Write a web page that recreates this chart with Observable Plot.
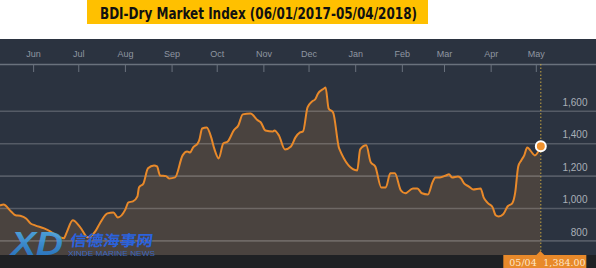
<!DOCTYPE html>
<html>
<head>
<meta charset="utf-8">
<script src="https://cdn.jsdelivr.net/npm/d3@7"></script>
<script src="https://cdn.jsdelivr.net/npm/@observablehq/plot@0.6"></script>
<style>
  html, body { margin: 0; padding: 0; background: #fff; }
  #page { position: relative; width: 596px; height: 268px; overflow: hidden; }
  #head { height: 39px; }
  #chart { position: relative; width: 596px; height: 229px;
           background: linear-gradient(#2b3340 0, #2b3340 216px, #1f2124 216px, #1f2124 229px); }
  #logo { position: absolute; left: 0; top: 0; pointer-events: none; }
</style>
</head>
<body>
<div id="page">
  <div id="head"></div>
  <div id="chart"></div>
  <svg id="logo" width="596" height="268"></svg>
</div>
<script>
// ---- data ----
const titleText = "BDI-Dry Market Index (06/01/2017-05/04/2018)";
const dates = ["2017-05-10","2017-05-12","2017-05-17","2017-05-20","2017-05-23","2017-05-27","2017-05-30",
  "2017-06-02","2017-06-08","2017-06-12","2017-06-17","2017-06-21","2017-06-23","2017-06-27",
  "2017-07-02","2017-07-07","2017-07-12","2017-07-15","2017-07-20","2017-07-24","2017-07-27",
  "2017-08-01","2017-08-03","2017-08-06","2017-08-09","2017-08-10","2017-08-13","2017-08-16","2017-08-20","2017-08-22","2017-08-24","2017-08-28","2017-08-30",
  "2017-09-03","2017-09-08","2017-09-11","2017-09-13","2017-09-15","2017-09-18","2017-09-19","2017-09-21","2017-09-24","2017-09-27","2017-09-29",
  "2017-10-02","2017-10-05","2017-10-08","2017-10-12","2017-10-15","2017-10-18","2017-10-23","2017-10-28","2017-10-30",
  "2017-11-02","2017-11-07","2017-11-08","2017-11-11","2017-11-15","2017-11-19","2017-11-22","2017-11-25","2017-11-27","2017-11-30",
  "2017-12-03","2017-12-05","2017-12-07","2017-12-11","2017-12-12","2017-12-14","2017-12-17","2017-12-21",
  "2018-01-02","2018-01-04","2018-01-08","2018-01-11","2018-01-14","2018-01-18","2018-01-21","2018-01-24","2018-01-27","2018-01-31",
  "2018-02-03","2018-02-08","2018-02-11","2018-02-14","2018-02-18","2018-02-21","2018-02-23","2018-02-26",
  "2018-03-02","2018-03-04","2018-03-06","2018-03-10","2018-03-12","2018-03-14","2018-03-17","2018-03-20","2018-03-25","2018-03-27","2018-03-30",
  "2018-04-02","2018-04-04","2018-04-06","2018-04-09","2018-04-12","2018-04-15","2018-04-17","2018-04-19","2018-04-21","2018-04-23","2018-04-25","2018-04-27","2018-04-30",
  "2018-05-04"];
const values = [1020,1025,982,958,955,939,908,896,877,859,
  828,816,853,927,884,822,859,908,970,976,
  945,995,1038,1044,1075,1130,1155,1248,1266,1260,
  1204,1200,1186,1192,1328,1352,1346,1377,1402,1420,
  1494,1500,1439,1371,1309,1402,1414,1482,1513,1581,
  1587,1544,1531,1482,1476,1482,1451,1365,1383,1439,
  1470,1476,1624,1661,1673,1710,1741,1747,1618,1593,
  1371,1235,1365,1390,1285,1260,1130,1130,1217,1217,
  1112,1094,1124,1124,1094,1087,1161,1192,1192,1204,
  1211,1192,1198,1186,1155,1137,1118,1124,1069,1032,
  1007,958,951,964,1014,1032,1100,1260,1297,1328,
  1377,1359,1328,1384];
const monthTicks = ["2017-06-01","2017-07-01","2017-08-01","2017-09-01","2017-10-01","2017-11-01",
  "2017-12-01","2018-01-01","2018-02-01","2018-03-01","2018-04-01","2018-05-01"];
const monthLabels = ["Jun","Jul","Aug","Sep","Oct","Nov","Dec","Jan","Feb","Mar","Apr","May"];
const yTicks = [800, 1000, 1200, 1400, 1600];
const xDomain = ["2017-05-10", "2018-06-10"];
const yDomain = [710, 1889];
const lastLabelDate = "05/04";
const lastLabelValue = "1,384.00";

// ---- build ----
const data = dates.map((d, i) => ({date: new Date(d), value: values[i]}));
const ticks = monthTicks.map(d => new Date(d));
const last = data[data.length - 1];

// title
const head = d3.select("#head").append("svg").attr("width", 596).attr("height", 39);
head.append("rect").attr("x", 87).attr("y", 0).attr("width", 341).attr("height", 24).attr("fill", "#ffc000");
head.append("text").attr("x", 100).attr("y", 18.5)
  .attr("textLength", 317).attr("lengthAdjust", "spacingAndGlyphs")
  .attr("font-family", "DejaVu Sans").attr("font-weight", "bold").attr("font-size", 15)
  .attr("fill", "#111").text(titleText);

function labelBox(index, scales, values, dims) {
  const x = scales.x(last.date);
  const yTop = dims.height - dims.marginBottom;
  const g = d3.create("svg:g").attr("text-anchor", "start");
  g.append("path").attr("d", `M${x - 5},${yTop + 1}L${x},${yTop - 4}L${x + 5},${yTop + 1}Z`).attr("fill", "#e8892a");
  g.append("rect").attr("x", x - 37).attr("y", yTop).attr("width", 83).attr("height", dims.marginBottom).attr("fill", "#e8892a");
  g.append("text").attr("x", x - 31).attr("y", yTop + 10.5).attr("text-anchor", "start")
    .attr("font-family", "DejaVu Serif").attr("font-size", 9.5).attr("fill", "#fde6c8")
    .text(lastLabelDate);
  g.append("text").attr("x", x + 3).attr("y", yTop + 10.5).attr("text-anchor", "start")
    .attr("font-family", "DejaVu Serif").attr("font-size", 9.5).attr("fill", "#fde6c8")
    .text(lastLabelValue);
  return g.node();
}

const plotH = 229, mTop = 25, mBottom = 13;
const chart = Plot.plot({
  width: 596, height: plotH,
  marginTop: mTop, marginBottom: mBottom, marginLeft: 0, marginRight: 0,
  style: {background: "transparent", color: "#8d949e", fontFamily: "Liberation Sans, Arial, sans-serif", overflow: "visible"},
  x: {type: "utc", domain: xDomain.map(d => new Date(d)), axis: null},
  y: {domain: yDomain, axis: null},
  marks: [
    Plot.areaY(data, {x: "date", y1: yDomain[0], y2: "value", fill: "#4a433f", curve: "monotone-x"}),
    Plot.ruleY(yTicks, {stroke: "#ffffff", strokeOpacity: 0.2, strokeWidth: 1.6}),
    Plot.ruleY([yDomain[1]], {stroke: "#6a727d", strokeWidth: 1.5}),
    Plot.ruleX(ticks, {stroke: "#6a727d", strokeWidth: 1, insetBottom: plotH - mTop - mBottom - 8}),
    Plot.axisX(ticks, {anchor: "top", tickSize: 0, tickPadding: 8, fontSize: 9, fill: "#8f96a0",
      tickFormat: d => monthLabels[ticks.findIndex(t => +t === +d)]}),
    Plot.text(yTicks, {y: d => d, text: d => d3.format(",")(d), frameAnchor: "right", textAnchor: "end",
      dx: -9, dy: -8.5, fill: "#a9afb7", fontSize: 10}),
    Plot.ruleX([last.date], {stroke: "#c9a640", strokeDasharray: "1.5,2", strokeWidth: 1, insetBottom: -1}),
    Plot.lineY(data, {x: "date", y: "value", stroke: "#e8892a", strokeWidth: 2, curve: "monotone-x"}),
    Plot.dot([last], {x: "date", y: "value", r: 5, fill: "#f0922e", stroke: "#ffffff", strokeWidth: 2}),
    labelBox
  ]
});
document.getElementById("chart").appendChild(chart);

// watermark logo
const logo = d3.select("#logo");
const defs = logo.append("defs");
const grad = defs.append("linearGradient").attr("id", "xdg").attr("x1", 0).attr("y1", 0).attr("x2", 0).attr("y2", 1);
grad.append("stop").attr("offset", "0%").attr("stop-color", "#56b6f0");
grad.append("stop").attr("offset", "100%").attr("stop-color", "#1f6fc4");
logo.append("text").attr("x", 11).attr("y", 255).attr("font-family", "Liberation Sans").attr("font-weight", "bold")
  .attr("font-style", "italic").attr("font-size", 34).attr("fill", "url(#xdg)").attr("fill-opacity", 0.9)
  .attr("textLength", 52).attr("lengthAdjust", "spacingAndGlyphs").text("XD");
logo.append("text").attr("x", 70).attr("y", 246).attr("font-family", "Noto Sans CJK SC").attr("font-weight", "bold")
  .attr("font-size", 15).attr("fill", "#2b62dd").attr("transform", "skewX(-8) translate(34,0)")
  .attr("textLength", 83).attr("lengthAdjust", "spacingAndGlyphs").text("信德海事网");
logo.append("text").attr("x", 68).attr("y", 256).attr("font-family", "Liberation Sans")
  .attr("font-size", 8).attr("fill", "#3a6fd8").attr("fill-opacity", 0.85)
  .attr("textLength", 87).attr("lengthAdjust", "spacingAndGlyphs").text("XINDE MARINE NEWS");
</script>
</body>
</html>
